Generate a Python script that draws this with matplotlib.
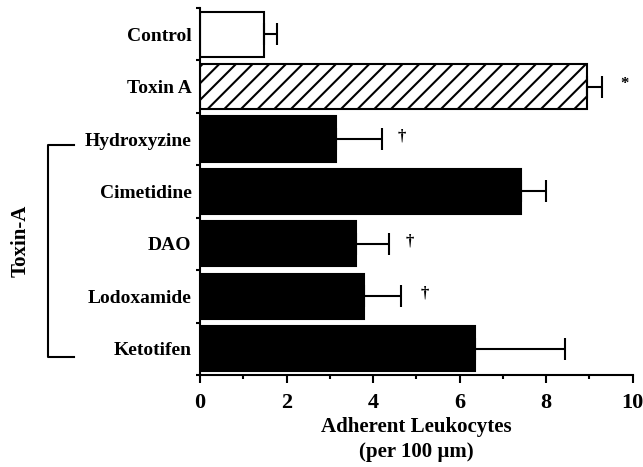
#!/usr/bin/env python3
"""Adherent leukocytes per 100 um: control, toxin A and toxin A + drug treatments."""
import matplotlib
matplotlib.use("Agg")
import matplotlib.pyplot as plt
import matplotlib.transforms as mtransforms

# values
labels = ["Control", "Toxin A", "Hydroxyzine", "Cimetidine", "DAO", "Lodoxamide", "Ketotifen"]
means = [1.48, 8.94, 3.15, 7.42, 3.6, 3.78, 6.35]
errors = [0.30, 0.36, 1.05, 0.57, 0.77, 0.86, 2.08]
marks = ["", "*", "\u2020", "", "\u2020", "\u2020", ""]
mark_x = [None, 9.8, 4.67, None, 4.85, 5.2, None]

plt.rcParams["font.family"] = ["Liberation Serif", "DejaVu Serif"]
plt.rcParams["hatch.linewidth"] = 1.5

fig = plt.figure(figsize=(6.43, 4.67), dpi=100)
ax = fig.add_axes([0.311, 0.197, 0.673, 0.786])

ypos = list(range(len(labels)))
faces = ["white", "white"] + ["black"] * (len(labels) - 2)
hatches = [None, "//"] + [None] * (len(labels) - 2)

for y, m, e, fc, h in zip(ypos, means, errors, faces, hatches):
    ax.barh(y, m, height=0.86, color=fc, edgecolor="black", linewidth=1.5, hatch=h)
    ax.errorbar(m, y, xerr=[[0], [e]], fmt="none", ecolor="black",
                elinewidth=1.5, capsize=8, capthick=1.5)

for y, s, xm in zip(ypos, marks, mark_x):
    if s:
        ax.text(xm, y - 0.05, s, ha="center", va="center", fontsize=12, fontweight="bold")

ax.set_xlim(0, 10)
ax.set_ylim(len(labels) - 0.5, -0.5)
ax.set_xticks(range(0, 11, 2))
ax.set_xticks(range(1, 10, 2), minor=True)
ax.set_yticks(ypos)
ax.set_yticklabels(labels)
ax.set_yticks([i - 0.5 for i in range(len(labels) + 1)], minor=True)

ax.tick_params(axis="y", which="major", length=0, pad=6, labelsize=14)
ax.tick_params(axis="y", which="minor", length=3, width=1.5, direction="out")
ax.tick_params(axis="x", which="major", length=6, width=1.5, labelsize=16, pad=7)
ax.tick_params(axis="x", which="minor", length=3, width=1.5)
for lab in ax.get_yticklabels():
    lab.set_fontweight("bold")
for lab in ax.get_xticklabels():
    lab.set_fontweight("bold")

for side in ("top", "right"):
    ax.spines[side].set_visible(False)
ax.spines["left"].set_linewidth(1.5)
ax.spines["bottom"].set_linewidth(1.5)

ax.set_xlabel("Adherent Leukocytes\n(per 100 \u00b5m)", fontsize=15, fontweight="bold",
              linespacing=1.3, labelpad=3)

# bracket grouping the toxin-A treatments
trans = mtransforms.blended_transform_factory(ax.transAxes, ax.transData)
bx, tx = -0.351, -0.29
ytop, ybot = 2.12, 6.15
ax.plot([tx, bx, bx, tx], [ytop, ytop, ybot, ybot], color="black", lw=1.5,
        transform=trans, clip_on=False)
ax.text(-0.415, 3.95, "Toxin-A", rotation=90, ha="center", va="center",
        fontsize=15, fontweight="bold", transform=trans)

fig.savefig("out.png", dpi=100)
